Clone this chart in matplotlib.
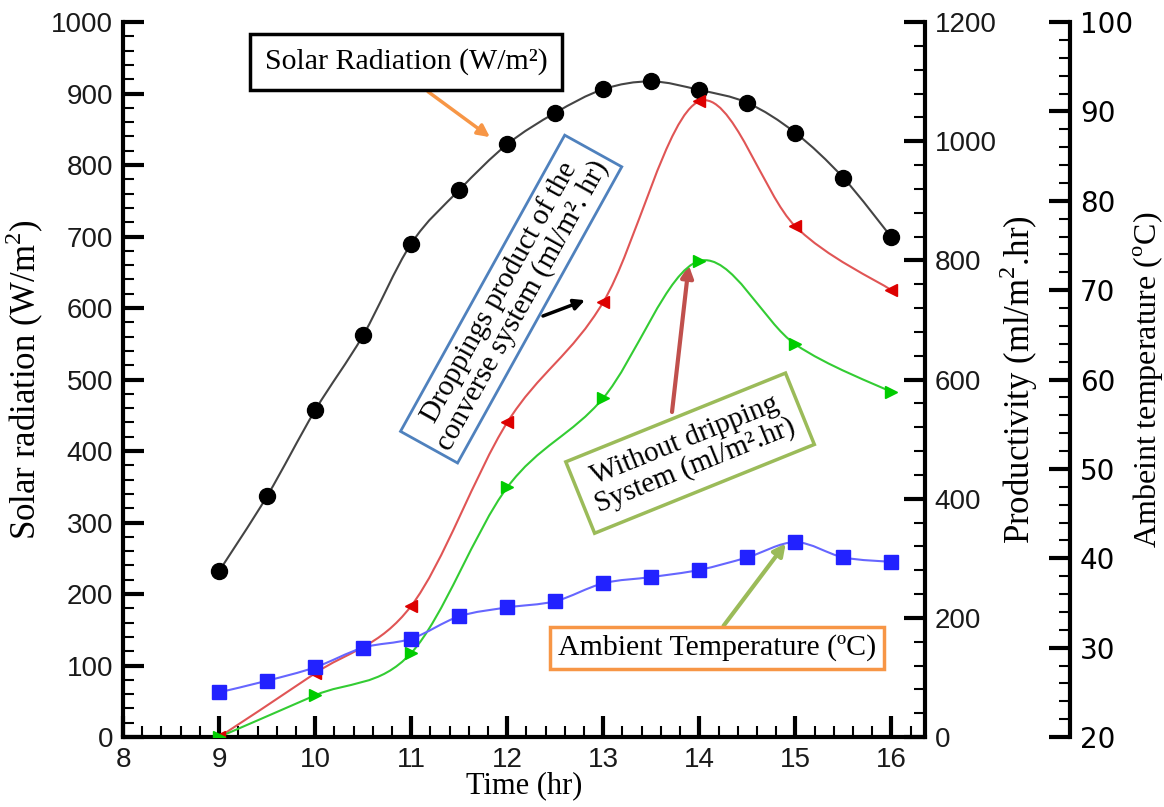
import matplotlib
matplotlib.use("Agg")
import matplotlib.pyplot as plt
import numpy as np
from matplotlib.path import Path
from matplotlib.patches import PathPatch
from matplotlib.ticker import MultipleLocator

# Data
time_solar = [9, 9.5, 10, 10.5, 11, 11.5, 12, 12.5, 13, 13.5, 14, 14.5, 15, 15.5, 16]
solar = [232, 337, 457, 562, 690, 765, 829, 873, 906, 917, 905, 887, 845, 782, 699]

time_temp = [9, 9.5, 10, 10.5, 11, 11.5, 12, 12.5, 13, 13.5, 14, 14.5, 15, 15.5, 16]
temp = [25.0, 26.3, 27.8, 30.0, 31.0, 33.5, 34.5, 35.2, 37.2, 37.9, 38.7, 40.1, 41.8, 40.1, 39.6]

time_prod = [9, 10, 11, 12, 13, 14, 15, 16]
prod_dripping = [0, 107, 220, 528, 730, 1067, 857, 750]
prod_without = [0, 70, 141, 419, 569, 799, 659, 579]

plt.rcParams['mathtext.fontset'] = 'custom'
plt.rcParams['mathtext.rm'] = 'Liberation Serif'
SERIF = 'Liberation Serif'
SANS = 'Liberation Sans'


def smooth_path(xs, ys):
    # Catmull-Rom curve through the points, drawn as cubic Bezier segments
    pts = np.column_stack([xs, ys]).astype(float)
    ext = np.vstack([pts[0], pts, pts[-1]])
    verts = [pts[0]]
    codes = [Path.MOVETO]
    for i in range(1, len(ext) - 2):
        p0, p1, p2, p3 = ext[i - 1], ext[i], ext[i + 1], ext[i + 2]
        verts += [p1 + (p2 - p0) / 6, p2 - (p3 - p1) / 6, p2]
        codes += [Path.CURVE4] * 3
    return Path(verts, codes)


fig = plt.figure(figsize=(11.64, 8.07), dpi=100)
ax = fig.add_axes([0.1057, 0.0867, 0.689, 0.886])
ax2 = ax.twinx()
ax3 = ax.twinx()

# solar radiation
ax.add_patch(PathPatch(smooth_path(time_solar, solar), fill=False, color='#444444', lw=1.5, zorder=2))
ax.plot(time_solar, solar, 'o', color='black', ms=11.5, zorder=3)

# productivity
ax2.add_patch(PathPatch(smooth_path(time_prod, prod_dripping), fill=False, color='#e05555', lw=1.5, zorder=2))
ax2.plot(time_prod, prod_dripping, '<', color='#dd0000', ms=9, zorder=3)
ax2.add_patch(PathPatch(smooth_path(time_prod, prod_without), fill=False, color='#33cc33', lw=1.5, zorder=2))
ax2.plot(time_prod, prod_without, '>', color='#00cc00', ms=9, zorder=3)

# ambient temperature
ax3.add_patch(PathPatch(smooth_path(time_temp, temp), fill=False, color='#6666ff', lw=1.5, zorder=2))
ax3.plot(time_temp, temp, 's', color='#2222ff', ms=10, zorder=3)

ax.set_xlim(8, 16.35)
ax.set_ylim(0, 1000)
ax2.set_ylim(0, 1200)
ax3.set_ylim(20, 100)

ax.xaxis.set_major_locator(MultipleLocator(1))
ax.xaxis.set_minor_locator(MultipleLocator(0.2))
ax.yaxis.set_major_locator(MultipleLocator(100))
ax.yaxis.set_minor_locator(MultipleLocator(20))
ax2.yaxis.set_major_locator(MultipleLocator(200))
ax2.yaxis.set_minor_locator(MultipleLocator(40))
ax3.yaxis.set_major_locator(MultipleLocator(10))
ax3.yaxis.set_minor_locator(MultipleLocator(2))

for a in (ax, ax2, ax3):
    a.spines['top'].set_visible(False)
    for s in a.spines.values():
        s.set_linewidth(3)
    a.tick_params(which='major', direction='in', length=15, width=3, labelsize=20, pad=7)
    a.tick_params(which='minor', direction='in', length=8, width=1.5)
    for lab in a.get_xticklabels() + a.get_yticklabels():
        lab.set_family(SANS)
        lab.set_color('#1a1a1a')

ax.spines['right'].set_visible(False)
ax2.spines['left'].set_visible(False)
ax2.spines['bottom'].set_visible(False)
ax3.spines['left'].set_visible(False)
ax3.spines['bottom'].set_visible(False)
ax3.spines['right'].set_position(('axes', 1.181))
ax.tick_params(axis='x', pad=7)

ax.set_xlabel('Time (hr)', family=SERIF, fontsize=22, labelpad=-1)
ax.set_ylabel('Solar radiation (W/m$^{2}$)', family=SERIF, fontsize=25, labelpad=4)
ax2.set_ylabel('Productivity (ml/m$^{2}$.hr)', family=SERIF, fontsize=25, labelpad=0)
ax3.set_ylabel('Ambeint temperature ($^{\\mathrm{o}}$C)', family=SERIF, fontsize=23, labelpad=-1)


def fx(px):
    return px / 1164


def fy(py):
    return 1 - py / 807


# annotation boxes with arrows
ax.annotate('Solar Radiation (W/m²)', xy=(11.82, 839), xycoords='data',
            xytext=(fx(406), fy(62)), textcoords='figure fraction',
            ha='center', va='center', family=SERIF, fontsize=21.5,
            bbox=dict(boxstyle='square,pad=0.5', fc='white', ec='black', lw=2.5),
            arrowprops=dict(arrowstyle='-|>', color='#f79646', lw=2.5, mutation_scale=18,
                            shrinkA=0, shrinkB=0, relpos=(0.5, 0)))

fig.text(fx(511), fy(299), 'Droppings product of the\nconverse system (ml/m². hr)',
         rotation=61, ha='center', va='center', family=SERIF, fontsize=21,
         linespacing=1.0, rotation_mode='anchor',
         bbox=dict(boxstyle='square,pad=0.2', fc='white', ec='#4f81bd', lw=2))
ax.annotate('', xy=(12.81, 611), xycoords='data', xytext=(fx(543), fy(316)),
            textcoords='figure fraction',
            arrowprops=dict(arrowstyle='-|>', color='black', lw=2.5, mutation_scale=16,
                            shrinkA=0, shrinkB=0))

ax.annotate('', xy=(13.89, 660), xycoords='data', xytext=(fx(672), fy(412)),
            textcoords='figure fraction',
            arrowprops=dict(arrowstyle='-|>', color='#c0504d', lw=3, mutation_scale=18,
                            shrinkA=0, shrinkB=0))
fig.text(fx(690), fy(453), 'Without dripping\nSystem (ml/m².hr)',
         rotation=22, ha='center', va='center', family=SERIF, fontsize=21,
         linespacing=1.05, rotation_mode='anchor',
         bbox=dict(boxstyle='square,pad=0.4', fc='white', ec='#9bbb59', lw=2.5))

ax.annotate('Ambient Temperature (ºC)', xy=(14.9, 271), xycoords='data',
            xytext=(fx(717), fy(648)), textcoords='figure fraction',
            ha='center', va='center', family=SERIF, fontsize=21.5,
            bbox=dict(boxstyle='square,pad=0.25', fc='white', ec='#f79646', lw=2.5),
            arrowprops=dict(arrowstyle='-|>', color='#9bbb59', lw=3, mutation_scale=18,
                            shrinkA=0, shrinkB=0, relpos=(0.5, 1)))

fig.savefig('out.png', dpi=100)
